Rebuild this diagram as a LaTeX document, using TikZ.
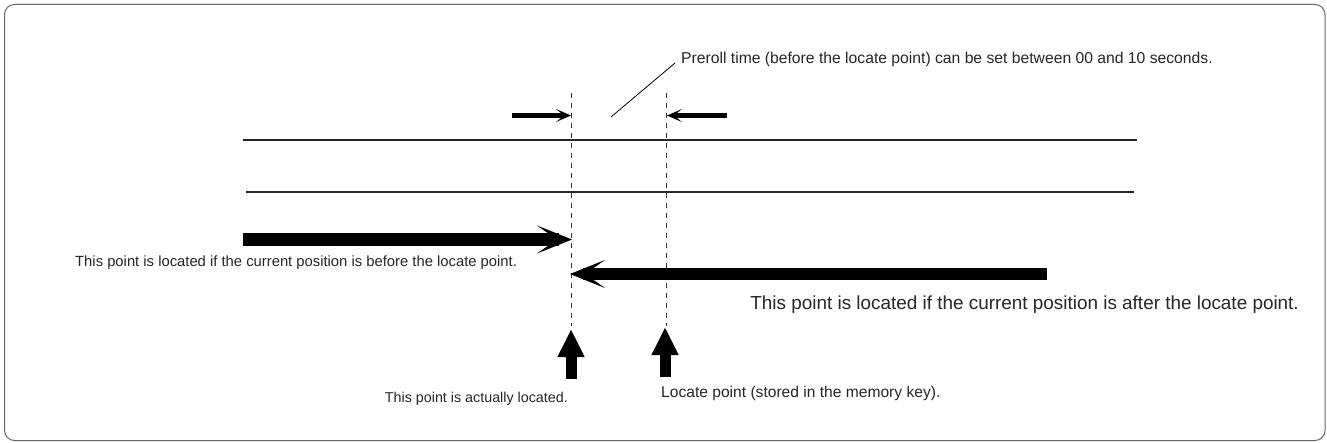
\documentclass[tikz,border=0pt]{standalone}
\usepackage{fontspec}
\setmainfont{Liberation Sans}
\usetikzlibrary{arrows.meta}
\begin{document}
\begin{tikzpicture}[x=1pt,y=-1pt,
  lbl/.style={inner sep=0pt, text=black!85},
  fs/.style={font=\fontsize{#1}{#1}\selectfont},
  track/.style={line width=1.6pt, black!85},
  guide/.style={line width=0.9pt, dash pattern=on 5pt off 5pt, black!80},
  bigarrow/.style={line width=12.5pt, -{Stealth[length=35pt, width=28pt, inset=20pt]}},
  smallarrow/.style={line width=5.5pt, -{Stealth[length=15pt, width=13pt, inset=8pt]}},
  uparrow/.style={line width=11pt, -{Triangle[length=28pt, width=25pt]}},
  leader/.style={line width=0.8pt}]
\useasboundingbox (0,0) rectangle (1327,443);
\draw[rounded corners=10pt, line width=1pt, black!60] (4.5,4.5) rectangle (1325,440.5);

% tracks
\coordinate (t1a) at (243,140); \coordinate (t1b) at (1137,140);
\coordinate (t2a) at (246,192); \coordinate (t2b) at (1134,192);
\draw[track] (t1a) -- (t1b);
\draw[track] (t2a) -- (t2b);

% dashed guides
\coordinate (g1t) at (571,93); \coordinate (g1b) at (571,326);
\coordinate (g2t) at (666,93); \coordinate (g2b) at (666,326);
\draw[guide] (g1t) -- (g1b);
\draw[guide] (g2t) -- (g2b);

% preroll small arrows
\coordinate (s1a) at (512,115.5); \coordinate (s1b) at (571,115.5);
\coordinate (s2a) at (727,115.5); \coordinate (s2b) at (667,115.5);
\draw[smallarrow] (s1a) -- (s1b);
\draw[smallarrow] (s2a) -- (s2b);

% leader and preroll text
\node[lbl, fs=15.7, anchor=base west] (pre) at (681,63.5) {Preroll time (before the locate point) can be set between 00 and 10 seconds.};
\coordinate (la) at (611,117); \coordinate (lb) at (675,63);
\draw[leader] (la) -- (lb);

% big arrows
\coordinate (b1a) at (243,239.5); \coordinate (b1b) at (572,239.5);
\draw[bigarrow] (b1a) -- (b1b);
\node[lbl, fs=14.8, anchor=base west] (before) at (75,267) {This point is located if the current position is before the locate point.};

\coordinate (b2a) at (1047,274); \coordinate (b2b) at (570,274);
\draw[bigarrow] (b2a) -- (b2b);
\node[lbl, fs=18.9, anchor=base east] (after) at (1299,309.5) {This point is located if the current position is after the locate point.};

% up arrows
\coordinate (u1a) at (571,379); \coordinate (u1b) at (571,329);
\coordinate (u2a) at (665,377); \coordinate (u2b) at (665,327);
\draw[uparrow] (u1a) -- (u1b);
\draw[uparrow] (u2a) -- (u2b);

\node[lbl, fs=14.3, anchor=base east] (actual) at (568,402) {This point is actually located.};
\node[lbl, fs=15.6, anchor=base west] (locate) at (661,397.5) {Locate point (stored in the memory key).};
\end{tikzpicture}
\end{document}
